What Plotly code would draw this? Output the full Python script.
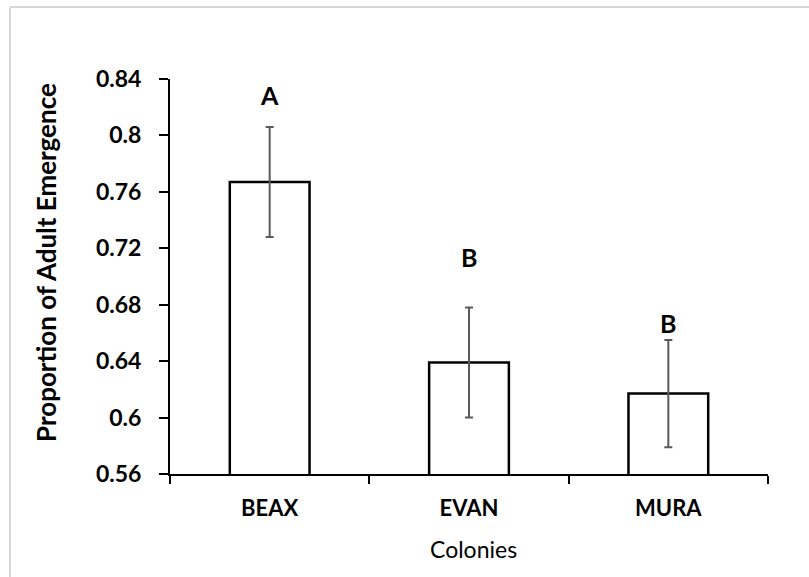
import plotly.graph_objects as go

# Colony means with their error margins and significance letters
colonies = ["BEAX", "EVAN", "MURA"]
emergence = [0.767, 0.639, 0.617]
err = [0.039, 0.039, 0.038]
sig_letters = ["A", "B", "B"]
letter_y = [0.829, 0.714, 0.667]

y_ticks = [0.56, 0.60, 0.64, 0.68, 0.72, 0.76, 0.80, 0.84]
y_tick_text = ["0.56", "0.6", "0.64", "0.68", "0.72", "0.76", "0.8", "0.84"]

W, H = 809, 577
L, R, T, B = 170, 41, 79, 103
PW, PH = W - L - R, H - T - B
FONT = "Lato"


def px_x(px):
    return (px - L) / PW


def px_y(py):
    return 1 - (py - T) / PH


fig = go.Figure()
fig.add_trace(go.Bar(
    x=colonies,
    y=emergence,
    width=0.4,
    marker=dict(color="white", line=dict(color="black", width=2.5)),
    error_y=dict(type="data", array=err, visible=True,
                 color="#5a5a5a", thickness=2, width=4),
    showlegend=False,
))

# significance letters above each bar
for c, lab, ly in zip(colonies, sig_letters, letter_y):
    fig.add_annotation(x=c, y=ly, text=lab, showarrow=False,
                       xanchor="center", yanchor="middle",
                       font=dict(family=FONT, size=25, color="black", weight="bold"),
                       xref="x", yref="y")

# y-axis title
fig.add_annotation(
    x=px_x(46), y=px_y(263), xref="paper", yref="paper",
    xanchor="center", yanchor="middle",
    text="Proportion of Adult Emergence", textangle=-90, showarrow=False,
    font=dict(family=FONT, size=26, color="black", weight="bold"),
)
# x-axis title
fig.add_annotation(
    x=px_x(473), y=px_y(549), xref="paper", yref="paper",
    xanchor="center", yanchor="middle",
    text="Colonies", showarrow=False,
    font=dict(family=FONT, size=23, color="black"),
)

# light outer frame (left and top edges)
frame = dict(color="#d6d6d6", width=2)
fig.add_shape(type="line", xref="paper", yref="paper",
              x0=px_x(10), x1=px_x(10), y0=px_y(H + 10), y1=px_y(7), line=frame)
fig.add_shape(type="line", xref="paper", yref="paper",
              x0=px_x(10), x1=px_x(W + 10), y0=px_y(7), y1=px_y(7), line=frame)

fig.update_layout(
    width=W, height=H,
    margin=dict(l=L, r=R, t=T, b=B),
    plot_bgcolor="white", paper_bgcolor="white",
    xaxis=dict(
        type="category", showline=True, linecolor="black", linewidth=2,
        ticks="outside", tickson="boundaries", ticklen=8, tickwidth=2,
        tickcolor="black", showgrid=False, zeroline=False,
        ticklabelstandoff=14,
        tickfont=dict(family=FONT, size=22, color="black", weight="bold"),
        range=[-0.5, 2.5],
    ),
    yaxis=dict(
        range=[0.56, 0.84], tickvals=y_ticks, ticktext=y_tick_text,
        showline=True, linecolor="black", linewidth=2,
        ticks="outside", ticklen=9, tickwidth=2, tickcolor="black",
        showgrid=False, zeroline=False, ticklabelstandoff=13,
        tickfont=dict(family=FONT, size=23, color="black", weight="bold"),
    ),
)

fig.write_html("out.html")
